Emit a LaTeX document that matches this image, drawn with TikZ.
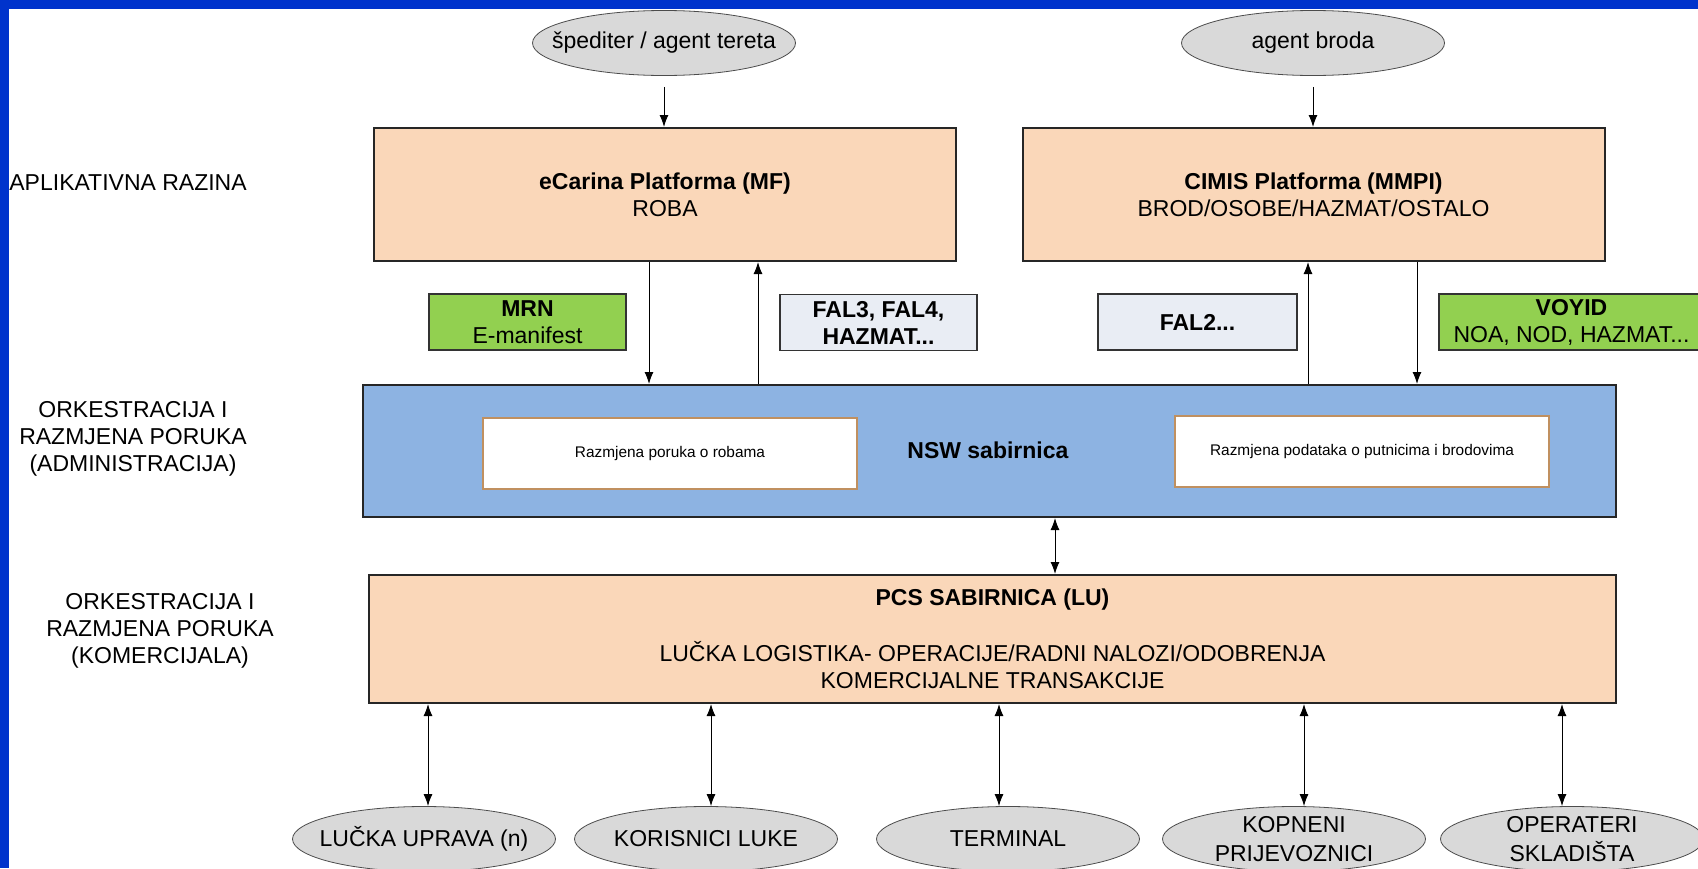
\documentclass[tikz,border=0pt]{standalone}
\usepackage{fontspec}
\setmainfont{Liberation Sans}
\usetikzlibrary{shapes.geometric,arrows.meta}
\definecolor{frameblue}{HTML}{0033CC}
\definecolor{peach}{HTML}{FAD7B9}
\definecolor{nswblue}{HTML}{8DB3E2}
\definecolor{msggreen}{HTML}{92D050}
\definecolor{msggray}{HTML}{E9EDF4}
\definecolor{actorgray}{HTML}{D9D9D9}
\definecolor{subedge}{HTML}{C09060}
\begin{document}
\begin{tikzpicture}[x=0.5pt, y=-0.5pt,
  font=\fontsize{11.5}{13.5}\selectfont,
  actor/.style={ellipse, draw=black!70, fill=actorgray, minimum width=131.5pt, minimum height=32.5pt, align=center, inner xsep=-15pt, inner ysep=-6pt},
  platform/.style={rectangle, draw=black!85, line width=1pt, fill=peach, minimum width=291pt, minimum height=66.5pt, align=center},
  msg/.style={rectangle, draw=black!80, line width=0.8pt, minimum width=98.5pt, minimum height=28pt, align=center, inner sep=0pt},
  subbox/.style={rectangle, draw=subedge, fill=white, line width=0.6pt, minimum width=187pt, minimum height=35.5pt, font=\fontsize{7.7}{9}\selectfont},
  layer/.style={align=center, inner xsep=0pt},
  arr/.style={-{Latex[length=6pt,width=4.5pt]}, line width=0.5pt},
  dbl/.style={{Latex[length=6pt,width=4.5pt]}-{Latex[length=6pt,width=4.5pt]}, line width=0.5pt}]
  \useasboundingbox (0,0) rectangle (1698,868);
  \fill[frameblue] (0,0) rectangle (1698,9);
  \fill[frameblue] (0,0) rectangle (9,868);

  \node[layer, anchor=west] (aplikativna) at (9,183) {APLIKATIVNA RAZINA};
  \node[layer] (admin) at (133,439) {ORKESTRACIJA I\\RAZMJENA PORUKA\\(ADMINISTRACIJA)};
  \node[layer] (komerc) at (160,631) {ORKESTRACIJA I\\RAZMJENA PORUKA\\(KOMERCIJALA)};

  \node[actor] (spediter) at (664,43) {špediter / agent tereta};
  \node[actor] (agentbroda) at (1313,43) {agent broda};
  \node[platform] (ecarina) at (665,194.5) {\textbf{eCarina Platforma (MF)}\\ROBA};
  \node[platform] (cimis) at (1313.5,194.5) {\textbf{CIMIS Platforma (MMPI)}\\BROD/OSOBE/HAZMAT/OSTALO};

  \node[msg, fill=msggreen] (mrn) at (527.5,322) {\textbf{MRN}\\E-manifest};
  \node[msg, fill=msggray] (fal34) at (878.5,322.5) {\textbf{FAL3, FAL4,}\\\textbf{HAZMAT...}};
  \node[msg, fill=msggray, minimum width=99.5pt] (fal2) at (1197.5,322) {\textbf{FAL2...}};
  \node[msg, fill=msggreen, minimum width=132.5pt] (voyid) at (1571.5,322) {\textbf{VOYID}\\NOA, NOD, HAZMAT...};

  \node[rectangle, draw=black!85, line width=1pt, fill=nswblue, minimum width=626.5pt, minimum height=66pt] (nsw) at (989.5,451) {};
  \node[subbox] (robe) at (670,453.5) {Razmjena poruka o robama};
  \node[subbox] (brodovi) at (1362,451.5) {Razmjena podataka o putnicima i brodovima};
  \node (nswlabel) at (988,450) {\textbf{NSW sabirnica}};

  \node[rectangle, draw=black!85, line width=1pt, fill=peach, minimum width=623.5pt, minimum height=64pt, align=center] (pcs) at (992.5,639)
    {\textbf{PCS SABIRNICA (LU)}\\[14.5pt]LUČKA LOGISTIKA- OPERACIJE/RADNI NALOZI/ODOBRENJA\\KOMERCIJALNE TRANSAKCIJE};

  \node[actor] (uprava) at (424,839) {LUČKA UPRAVA (n)};
  \node[actor] (korisnici) at (706,839) {KORISNICI LUKE};
  \node[actor] (terminal) at (1008,839) {TERMINAL};
  \node[actor] (kopneni) at (1294,839) {KOPNENI\\[1pt]PRIJEVOZNICI};
  \node[actor] (skladista) at (1572,839) {OPERATERI\\[1pt]SKLADIŠTA};

  \draw[arr] ([yshift=-5.5pt]spediter.south) -- (spediter.south |- ecarina.north);
  \draw[arr] ([yshift=-5.5pt]agentbroda.south) -- (agentbroda.south |- cimis.north);
  \draw[arr] ([xshift=-8pt]ecarina.south) -- ([xshift=-8pt]ecarina.south |- nsw.north);
  \draw[arr] ([xshift=46.5pt]ecarina.south |- nsw.north) -- ([xshift=46.5pt]ecarina.south);
  \draw[arr] ([xshift=-2.75pt]cimis.south |- nsw.north) -- ([xshift=-2.75pt]cimis.south);
  \draw[arr] ([xshift=51.75pt]cimis.south) -- ([xshift=51.75pt]cimis.south |- nsw.north);
  \draw[dbl] ([xshift=32.75pt]nsw.south) -- ([xshift=32.75pt]nsw.south |- pcs.north);
  \foreach \n/\dx in {uprava/2pt, korisnici/2.5pt, terminal/-4.5pt, kopneni/5pt, skladista/-5pt}
    \draw[dbl] ([xshift=\dx]\n.north |- pcs.south) -- ([xshift=\dx]\n.north);
\end{tikzpicture}
\end{document}
